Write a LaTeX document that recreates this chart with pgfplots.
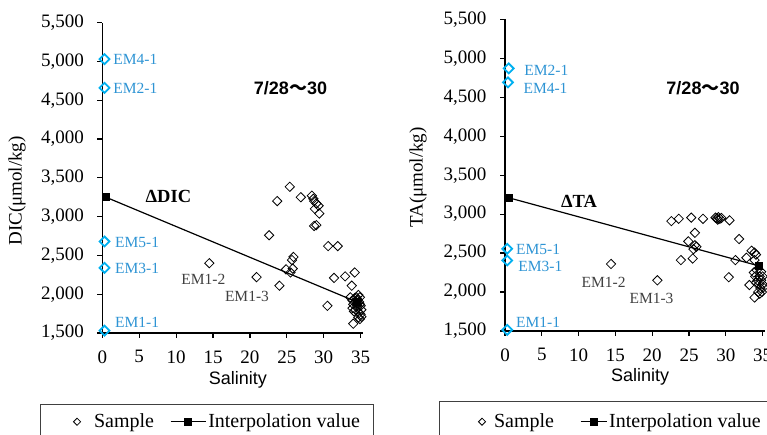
\documentclass[border=0pt]{standalone}
\usepackage{fontspec}
\setmainfont{Liberation Serif}
\newfontfamily\arialf{Liberation Sans}
\newfontfamily\cjk{Noto Sans CJK JP}
\usepackage{pgfplots}
\usepackage{pgfplotstable}
\pgfplotsset{compat=1.18}
\definecolor{emblue}{HTML}{00B0F0}
\definecolor{emtext}{HTML}{2E94D4}
\definecolor{dgray}{HTML}{404040}

\pgfplotstableread{
x y
14.5 2400
20.9 2220
22.6 2760
23.7 3200
24.0 2110
24.9 2320
25.4 3385
25.5 2280
25.8 2330
25.7 2440
25.9 2480
26.9 3250
28.4 3270
28.6 3230
28.7 3200
29.0 3170
29.3 3140
28.8 3100
29.4 3040
28.7 2880
29.0 2890
30.6 2620
31.9 2620
30.5 1850
31.4 2210
32.9 2230
34.2 2280
33.8 2110
33.6 1960
33.9 1920
34.0 1870
34.2 1950
34.4 1900
34.5 1880
34.6 1930
34.7 1990
34.5 1850
34.8 1900
34.9 1870
35.0 1850
34.3 1800
34.1 1780
34.6 1820
34.8 1760
35.0 1740
35.1 1710
34.7 1700
34.9 1680
34.0 1620
34.4 1960
34.9 1960
35.1 1800
33.9 1820
}\dicsample

\pgfplotstableread{
x y
0.5 3250
34.5 1900
}\dicinterp

\pgfplotstableread{
x y
0.3 5030
0.3 4660
0.3 2680
0.3 2340
0.3 1530
}\dicem

\pgfplotstableread{
x y
14.4 2360
20.7 2150
22.6 2910
23.6 2940
23.9 2410
25.3 2955
26.9 2940
28.6 2955
28.8 2945
29.0 2960
29.2 2940
28.9 2930
29.4 2950
30.5 2920
25.8 2760
24.9 2650
25.8 2600
26.0 2580
25.6 2550
25.5 2430
31.8 2680
31.3 2410
32.8 2440
33.5 2530
33.9 2505
34.1 2480
33.9 2410
30.4 2190
33.2 2090
33.9 1930
33.8 2250
34.0 2200
34.2 2280
34.3 2150
34.5 2100
34.6 2200
34.7 2050
34.8 2150
34.9 2000
35.0 2100
34.4 2000
34.6 1980
35.0 2200
34.8 2260
35.1 2060
34.1 2120
}\tasample

\pgfplotstableread{
x y
0.5 3210
34.5 2335
}\tainterp

\pgfplotstableread{
x y
0.5 4870
0.4 4690
0.3 2555
0.3 2405
0.3 1515
}\taem

\newcommand{\lfont}{\fontsize{19}{22}\selectfont}
\newcommand{\emfont}{\fontsize{15.5}{18}\selectfont}
\tikzset{eml/.style={anchor=west, inner sep=0pt, text=emtext, font=\emfont}}

\pgfplotsset{
 common/.style={
  scale only axis, anchor=south west,
  axis lines=left, axis line style={-, line width=1.6pt},
  tick align=outside, major tick length=5pt,
  tick style={line width=1.2pt, black},
  xmin=0, xmax=35.35, ymin=1500, ymax=5500,
  xtick={0,5,...,35}, ytick={1500,2000,...,5500},
  /pgf/number format/assume math mode=true,
  /pgf/number format/1000 sep={,},
  ticklabel style={font=\fontsize{19}{22}\selectfont},
  yticklabel style={xshift=-10pt},
  xticklabel style={yshift=-9pt},
  clip=false,
  legend columns=2,
  legend style={draw=none, fill=none, anchor=west, inner sep=0pt,
    nodes={inner xsep=2pt},
    font=\fontsize{20}{23}\selectfont},
 },
 samp/.style={only marks, mark=square, mark size=3.3pt,
   mark options={rotate=45, line width=0.8pt, black}},
 interp/.style={black, line width=1.2pt, mark=square*, mark size=3.3pt},
 emp/.style={only marks, mark=square, mark size=3.5pt,
   mark options={rotate=45, line width=1.8pt, emblue}, forget plot},
}

\begin{document}
\begin{tikzpicture}
\path[use as bounding box] (0pt,0pt) rectangle (767pt,435pt);
% legend boxes
\draw[dgray, line width=0.8pt] (40pt,30.7pt) rectangle (373.3pt,-20pt);
\draw[dgray, line width=0.8pt] (439.3pt,33.3pt) rectangle (800pt,-20pt);

\begin{axis}[common, at={(102.3pt,102pt)}, width=260.9pt, height=310.3pt,
  legend style={at={(axis description cs:-0.111,-0.286)},
    /tikz/every even column/.append style={column sep=14pt}}]
\addplot[samp, legend image code/.code={\draw[mark size=2.5pt] plot coordinates {(0pt,0pt)}; \path[draw=none] (0pt,0pt) -- (15pt,0pt);}] table {\dicsample};
\addlegendentry{Sample}
\addplot[interp, legend image code/.code={\draw[mark repeat=2,mark phase=2] plot coordinates {(0pt,0pt)(17.5pt,0pt)(35pt,0pt)};}] table {\dicinterp};
\addlegendentry{Interpolation value}
\addplot[emp] table {\dicem};
\node[eml] at (axis cs:1.49,5031) {EM4-1};
\node[eml] at (axis cs:1.49,4657) {EM2-1};
\node[eml] at (axis cs:1.72,2670) {EM5-1};
\node[eml] at (axis cs:1.72,2335) {EM3-1};
\node[eml] at (axis cs:1.72,1633) {EM1-1};
\node[text=dgray, font=\emfont] at (axis cs:13.7,2193) {EM1-2};
\node[text=dgray, font=\emfont] at (axis cs:19.6,1977) {EM1-3};
\node[font=\fontsize{18.5}{22}\selectfont\bfseries] at (axis cs:8.95,3258) {ΔDIC};
\node[font=\fontsize{18}{22}\selectfont\arialf\bfseries] at (axis cs:25.5,4657) {7/28{\cjk ～}30};
\node[rotate=90, font=\lfont] at (axis description cs:-0.327,0.458) {DIC(μmol/kg)};
\node[font=\fontsize{18}{22}\selectfont\arialf] at (axis description cs:0.52,-0.151) {Salinity};
\end{axis}

\begin{axis}[common, at={(505pt,104pt)}, width=260.2pt, height=311.7pt,
  legend style={at={(axis description cs:-0.1026,-0.291)},
    /tikz/every even column/.append style={column sep=24pt}}]
\addplot[samp, legend image code/.code={\draw[mark size=2.5pt] plot coordinates {(0pt,0pt)}; \path[draw=none] (0pt,0pt) -- (10pt,0pt);}] table {\tasample};
\addlegendentry{Sample}
\addplot[interp, legend image code/.code={\draw[mark repeat=2,mark phase=2] plot coordinates {(0pt,0pt)(13pt,0pt)(26pt,0pt)};}] table {\tainterp};
\addlegendentry{Interpolation value}
\addplot[emp] table {\taem};
\node[eml] at (axis cs:2.62,4840) {EM2-1};
\node[eml] at (axis cs:2.49,4609) {EM4-1};
\node[eml] at (axis cs:1.49,2548) {EM5-1};
\node[eml] at (axis cs:1.8,2325) {EM3-1};
\node[eml] at (axis cs:1.49,1606) {EM1-1};
\node[text=dgray, font=\emfont] at (axis cs:13.4,2120) {EM1-2};
\node[text=dgray, font=\emfont] at (axis cs:19.9,1920) {EM1-3};
\node[font=\fontsize{18.5}{22}\selectfont\bfseries] at (axis cs:10.05,3159) {ΔTA};
\node[font=\fontsize{18}{22}\selectfont\arialf\bfseries] at (axis cs:26.9,4614) {7/28{\cjk ～}30};
\node[rotate=90, font=\lfont] at (axis description cs:-0.334,0.4925) {TA(μmol/kg)};
\node[font=\fontsize{18}{22}\selectfont\arialf] at (axis description cs:0.519,-0.148) {Salinity};
\end{axis}
\end{tikzpicture}
\end{document}
